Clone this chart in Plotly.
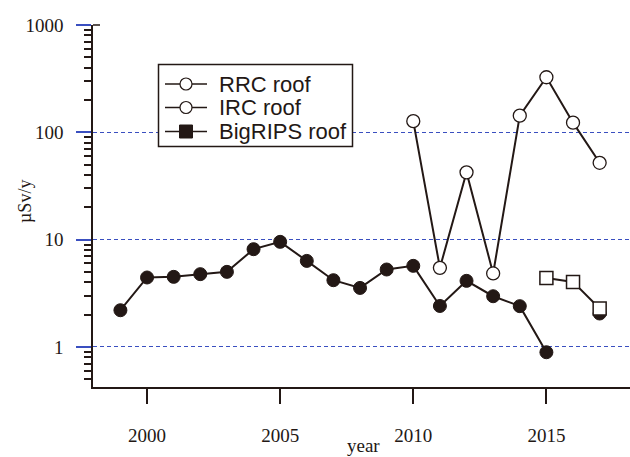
import plotly.graph_objects as go

# ---- data ----
years_filled = [1999, 2000, 2001, 2002, 2003, 2004, 2005, 2006, 2007, 2008,
                2009, 2010, 2011, 2012, 2013, 2014, 2015, 2016, 2017]
values_filled = [2.20, 4.44, 4.50, 4.77, 5.01, 8.15, 9.54, 6.34, 4.19, 3.55,
                 5.27, 5.70, 2.41, 4.13, 2.97, 2.40, 0.893, None, 2.05]

years_open = [2010, 2011, 2012, 2013, 2014, 2015, 2016, 2017]
values_open = [127, 5.46, 42.4, 4.84, 143, 326, 123, 52]

years_square = [2015, 2016, 2017]
values_square = [4.40, 4.04, 2.28]

legend_labels = ["RRC roof", "IRC roof", "BigRIPS roof"]
legend_symbols = ["circle-open", "circle-open", "square"]

x_ticks = [2000, 2005, 2010, 2015]
y_ticks = [1, 10, 100, 1000]
y_ticklabels = ["1", "10", "100", "1000"]

INK = "#231815"
GRID = "#3a4fc0"
SERIF = "Liberation Serif, Times New Roman"

W, H = 630, 457
L, R, T, B = 93, 0, 25, 70
PW, PH = W - L - R, H - T - B


def px(x):
    return (x - L) / PW


def py(y):
    return (H - B - y) / PH


fig = go.Figure()

fig.add_trace(go.Scatter(
    x=years_filled, y=values_filled, mode="lines+markers",
    line=dict(color=INK, width=2), connectgaps=False,
    marker=dict(symbol="circle", size=13, color=INK, line=dict(color=INK, width=1)),
    showlegend=False))

fig.add_trace(go.Scatter(
    x=years_square, y=values_square, mode="lines+markers",
    line=dict(color=INK, width=2),
    marker=dict(symbol="square", size=13, color="white", line=dict(color=INK, width=1.5)),
    showlegend=False))

fig.add_trace(go.Scatter(
    x=years_open, y=values_open, mode="lines+markers",
    line=dict(color=INK, width=2),
    marker=dict(symbol="circle", size=13, color="white", line=dict(color=INK, width=1.3)),
    showlegend=False))

# ---- hand-drawn legend box (matches reference spacing) ----
shapes = []
annotations = []
shapes.append(dict(type="rect", xref="paper", yref="paper",
                   x0=px(158.5), x1=px(352.5), y0=py(146.5), y1=py(64.5),
                   line=dict(color=INK, width=1.5), fillcolor="white", layer="above"))
row_y = [84.0, 107.5, 131.5]
for lab, sym, yy in zip(legend_labels, legend_symbols, row_y):
    shapes.append(dict(type="line", xref="paper", yref="paper",
                       x0=px(165), x1=px(207), y0=py(yy), y1=py(yy),
                       line=dict(color=INK, width=1.5), layer="above"))
    if sym == "square":
        shapes.append(dict(type="rect", xref="paper", yref="paper",
                           xsizemode="pixel", ysizemode="pixel",
                           xanchor=px(186), yanchor=py(yy),
                           x0=-6.5, x1=6.5, y0=-6.5, y1=6.5,
                           line=dict(color=INK, width=1), fillcolor=INK, layer="above"))
    else:
        shapes.append(dict(type="circle", xref="paper", yref="paper",
                           xsizemode="pixel", ysizemode="pixel",
                           xanchor=px(186), yanchor=py(yy),
                           x0=-6, x1=6, y0=-6, y1=6,
                           line=dict(color=INK, width=1.2), fillcolor="white", layer="above"))
    annotations.append(dict(text=lab, xref="paper", yref="paper",
                            x=px(217), y=py(yy), xanchor="left", yanchor="middle",
                            showarrow=False, height=25, valign="middle",
                            font=dict(family="Liberation Sans, Arial", size=22, color=INK)))

# small cap at the top of the y axis
shapes.append(dict(type="line", xref="paper", yref="paper",
                   x0=px(93), x1=px(100), y0=1, y1=1,
                   line=dict(color=INK, width=1.5), layer="above"))

# axis titles
annotations.append(dict(text="year", xref="paper", yref="paper",
                        x=px(363), y=py(458), xanchor="center", yanchor="bottom",
                        showarrow=False, font=dict(family=SERIF, size=19, color=INK)))
annotations.append(dict(text="µSv/y", xref="paper", yref="paper",
                        x=px(25), y=py(202), xanchor="center", yanchor="middle",
                        textangle=-90, showarrow=False,
                        font=dict(family=SERIF, size=18, color=INK)))

fig.update_layout(
    width=W, height=H,
    margin=dict(l=L, r=R, t=T, b=B, pad=0, autoexpand=False),
    paper_bgcolor="white", plot_bgcolor="white",
    font=dict(family=SERIF, size=19, color=INK),
    shapes=shapes, annotations=annotations,
    showlegend=False,
)

fig.update_xaxes(
    range=[1997.97, 2018.14], tickvals=x_ticks, automargin=False,
    showline=True, linecolor=INK, linewidth=2,
    ticks="outside", ticklen=15, tickwidth=1.5, tickcolor=INK,
    ticklabelstandoff=15,
    showgrid=False, zeroline=False,
    tickfont=dict(family=SERIF, size=19, color=INK),
)

fig.update_yaxes(
    type="log", range=[-0.373, 3.0], automargin=False,
    tickvals=y_ticks, ticktext=y_ticklabels,
    showline=True, linecolor=INK, linewidth=1.5,
    ticks="outside", ticklen=15, tickwidth=1.5, tickcolor=GRID,
    ticklabelstandoff=9,
    showgrid=True, gridcolor=GRID, gridwidth=1, griddash="4px,3px",
    zeroline=False,
    minor=dict(ticks="outside", ticklen=7, tickwidth=1.5, tickcolor=INK,
               dtick="D1", showgrid=False),
    tickfont=dict(family=SERIF, size=19, color=INK),
)

fig.write_html("out.html", config={"displayModeBar": False},
               post_script="document.body.style.margin='0';")
